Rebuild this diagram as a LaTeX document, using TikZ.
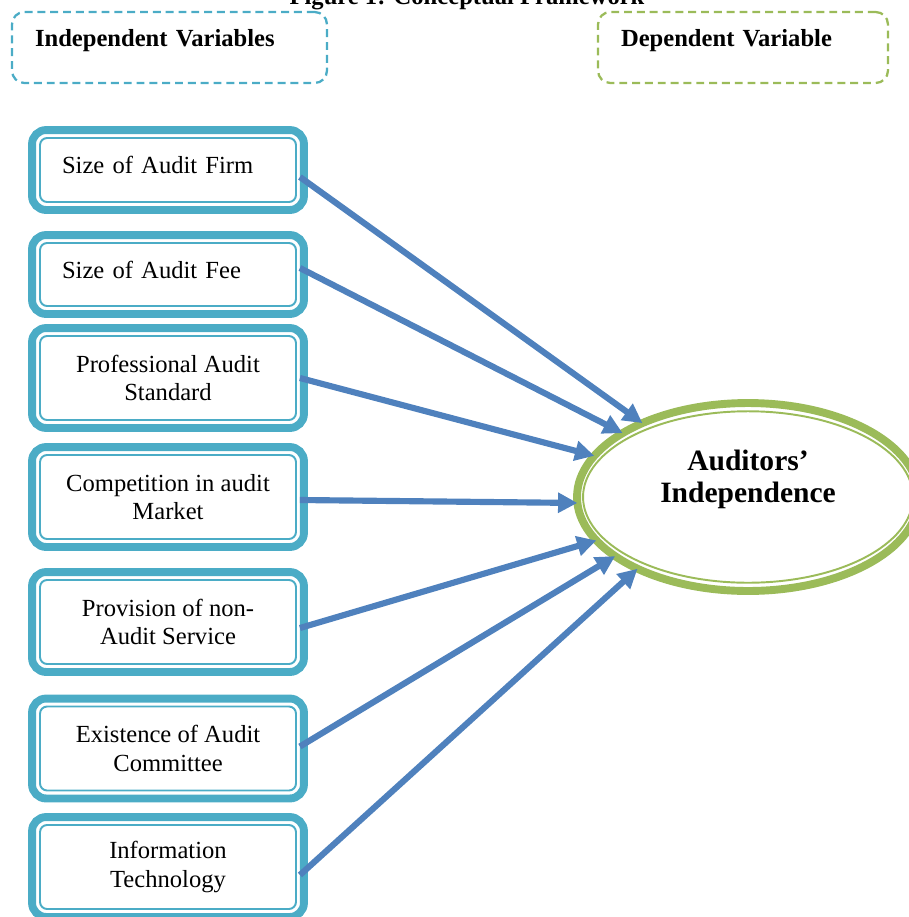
\documentclass[tikz,border=0pt]{standalone}
\usepackage{fontspec}
\setmainfont{Liberation Serif}
\usetikzlibrary{shapes,arrows.meta,positioning}
\definecolor{ivcyan}{HTML}{4BACC6}
\definecolor{dvgreen}{HTML}{9BBB59}
\definecolor{linkblue}{HTML}{4F81BD}

\begin{document}
\begin{tikzpicture}[x=0.02cm, y=-0.02cm,
        header/.style={rectangle, dash pattern=on 4.5pt off 2.8pt, line width=1.3pt, rounded corners=7pt, minimum height=1.42cm, inner xsep=0.46cm, align=left, text height=0.34cm, text depth=0.39cm, font=\fontsize{14}{16}\selectfont\bfseries},
        ivar/.style={rectangle, draw=ivcyan, line width=1.1pt, rounded corners=4pt, minimum width=5.12cm, minimum height=1.68cm, inner sep=2pt, align=center, font=\fontsize{14}{16}\selectfont},
        ivleft/.style={ivar, minimum height=1.28cm, text width=4.24cm, inner xsep=0.44cm, align=left, text depth=0.2cm},
        ivframe/.style={draw=ivcyan, line width=4.5pt, rounded corners=8pt},
        dvar/.style={ellipse, draw=dvgreen, line width=4.5pt, minimum width=6.84cm, minimum height=3.76cm, inner sep=0pt, outer sep=0pt},
        dvinner/.style={ellipse, draw=dvgreen, line width=1.1pt, minimum width=6.6cm, minimum height=3.43cm, inner sep=0pt},
        arrow/.style={-{Triangle[length=11pt,width=11pt]}, draw=linkblue, line width=3.5pt},
      ]
      \useasboundingbox (0,0) rectangle (909,917);
      % title and headings
      \node [anchor=base, font=\fontsize{14}{16}\selectfont\bfseries] (title) at (467,4) {Figure 1: Conceptual Framework};
      \node [header, draw=ivcyan, text width=5.38cm] (ivhead) at (169.5,47.5) {Independent Variables};
      \node [header, draw=dvgreen, text width=4.88cm] (dvhead) at (743,47.5) {Dependent Variable};
      % independent variables
      \node [ivleft] (firm) at (168,170) {Size of Audit Firm};
      \node [ivleft, minimum height=1.26cm] (fee) at (168,274.5) {Size of Audit Fee};
      \node [ivar] (std) at (168,378) {Professional Audit\\Standard};
      \node [ivar] (comp) at (168,497) {Competition in audit\\Market};
      \node [ivar] (nas) at (168,622) {Provision of non-\\Audit Service};
      \node [ivar] (comm) at (168,748.5) {Existence of Audit\\Committee};
      \node [ivar] (itech) at (168,867) {Information\\Technology};
      \foreach \b in {firm,fee,std,comp,nas,comm,itech}
        \draw [ivframe] ([shift={(-0.14cm,-0.14cm)}]\b.south west) rectangle ([shift={(0.14cm,0.14cm)}]\b.north east);
      % dependent variable
      \node [dvar] (ai) at (748,497) {};
      \node [dvinner] (aiin) at (ai.center) {};
      \node [font=\fontsize{16.8}{18.2}\selectfont\bfseries, align=center] (ailabel) at (748,479) {Auditors’\\Independence};
      % links
      \draw [arrow] ([shift={(0.06cm,-0.14cm)}]firm.east) -- (ai.145);
      \draw [arrow] ([shift={(0.06cm,0.13cm)}]fee.east) -- (ai.153);
      \draw [arrow] ([shift={(0.06cm,0cm)}]std.east) -- (ai.165);
      \draw [arrow] ([shift={(0.06cm,-0.06cm)}]comp.east) -- (ai.182);
      \draw [arrow] ([shift={(0.06cm,-0.12cm)}]nas.east) -- (ai.196);
      \draw [arrow] ([shift={(0.06cm,0.04cm)}]comm.east) -- (ai.204);
      \draw [arrow] ([shift={(0.06cm,-0.16cm)}]itech.east) -- (ai.213);
    \end{tikzpicture}
\end{document}
